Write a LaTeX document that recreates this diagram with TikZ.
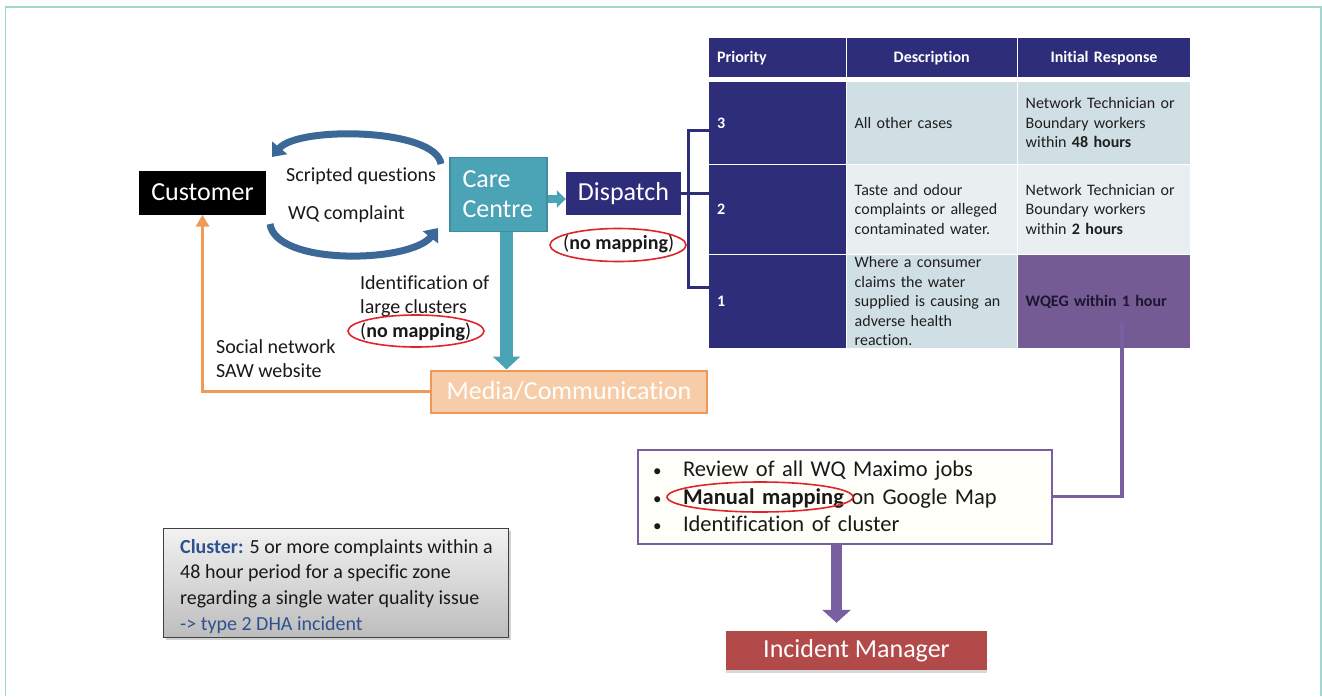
\documentclass[tikz,border=0pt]{standalone}
\usepackage{fontspec}
\setmainfont{Carlito}[Ligatures=CommonOff]
\usetikzlibrary{arrows.meta,shapes.geometric,shadows,calc}

\definecolor{navy}{RGB}{46,45,122}
\definecolor{careteal}{RGB}{75,163,182}
\definecolor{careedge}{RGB}{62,140,158}
\definecolor{arcblue}{RGB}{60,104,152}
\definecolor{mediafill}{RGB}{246,205,168}
\definecolor{mediaedge}{RGB}{238,152,88}
\definecolor{orangeln}{RGB}{240,154,89}
\definecolor{rowa}{RGB}{208,223,227}
\definecolor{rowb}{RGB}{233,238,241}
\definecolor{plum}{RGB}{116,91,148}
\definecolor{plumln}{RGB}{122,95,160}
\definecolor{incred}{RGB}{178,74,74}
\definecolor{markred}{RGB}{224,36,43}
\definecolor{clusterblue}{RGB}{47,82,143}
\definecolor{framec}{RGB}{160,216,208}
\definecolor{reviewfill}{RGB}{255,255,250}
\definecolor{darktext}{RGB}{28,22,48}

\begin{document}
\begin{tikzpicture}[x=1pt,y=-1pt,
  box/.style={rectangle, inner sep=0pt, text=white, font=\fontsize{26}{30}\selectfont},
  lbl/.style={anchor=base west, inner sep=0pt, text=black!90, font=\fontsize{20}{24}\selectfont},
  cell/.style={rectangle, anchor=north west, inner xsep=8pt, inner ysep=0pt, align=left,
               text=black!88, font=\fontsize{16}{19.5}\selectfont},
  hcell/.style={cell, fill=navy, text=white, font=\fontsize{16}{19.5}\selectfont\bfseries},
  redoval/.style={ellipse, draw=markred, line width=1.6pt, inner sep=0pt},
]
\useasboundingbox (0,0) rectangle (1322,696);
\fill[white] (0,0) rectangle (1322,696);
\draw[framec, line width=1.5pt] (5.5,696) -- (5.5,7) -- (1321,7) -- (1321,696);

% ---------- main flow boxes ----------
\node[box, fill=black, minimum width=127pt, minimum height=44pt] (customer) at (202.5,192.5) {Customer};
\node[box, fill=careteal, draw=careedge, line width=1.5pt, minimum height=74pt,
      text width=72pt, align=left, inner xsep=12.5pt] (care) at (498.5,194.5) {Care\\Centre};
\node[box, fill=navy, minimum width=115pt, minimum height=43pt] (dispatch) at (623.5,193.5) {Dispatch};
\node[box, fill=mediafill, draw=mediaedge, line width=2pt, minimum width=276pt, minimum height=42pt]
      (media) at (569,391.5) {Media/Communication};

% ---------- priority table ----------
\node[hcell, text width=120.5pt, minimum height=39pt] (hprio) at (709,38) {Priority};
\node[hcell, text width=154pt, align=center, minimum height=39pt] (hdesc) at (846.5,38) {Description};
\node[hcell, text width=156.5pt, align=center, minimum height=39pt] (hresp) at (1017.5,38) {Initial Response};

\node[hcell, text width=120.5pt, minimum height=81.5pt] (p3) at (709,82) {3};
\node[cell, fill=rowa, text width=154pt, minimum height=81.5pt] (d3) at (846.5,82) {All other cases};
\node[cell, fill=rowa, text width=156.5pt, minimum height=81.5pt] (r3) at (1017.5,82)
      {Network Technician or\\Boundary workers\\within \textbf{48 hours}};

\node[hcell, text width=120.5pt, minimum height=89pt] (p2) at (709,164.5) {2};
\node[cell, fill=rowb, text width=154pt, minimum height=89pt] (d2) at (846.5,164.5)
      {Taste and odour\\complaints or alleged\\contaminated water.};
\node[cell, fill=rowb, text width=156.5pt, minimum height=89pt] (r2) at (1017.5,164.5)
      {Network Technician or\\Boundary workers\\within \textbf{2 hours}};

\node[hcell, text width=120.5pt, minimum height=93.5pt] (p1) at (709,254.5) {1};
\node[cell, fill=rowa, text width=154pt, minimum height=93.5pt] (d1) at (846.5,254.5)
      {Where a consumer\\claims the water\\supplied is causing an\\adverse health\\reaction.};
\node[cell, fill=plum, text=darktext, text width=156.5pt, minimum height=93.5pt,
      font=\fontsize{16}{19.5}\selectfont\bfseries] (r1) at (1017.5,254.5) {WQEG within 1 hour};

% ---------- lower boxes ----------
\node[rectangle, draw=plumln, line width=2pt, fill=reviewfill, minimum height=94pt,
      text width=384pt, inner xsep=15pt, align=left, text=black!90,
      font=\fontsize{22.5}{27.5}\selectfont] (review) at (845,496.5)
      {\makebox[30pt][l]{\fontsize{17}{20}\selectfont•}Review of all WQ Maximo jobs\\
       \makebox[30pt][l]{\fontsize{17}{20}\selectfont•}\textbf{Manual mapping} on Google Map\\
       \makebox[30pt][l]{\fontsize{17}{20}\selectfont•}Identification of cluster};

\node[box, fill=incred, minimum width=261pt, minimum height=39pt,
      drop shadow={opacity=0.3, shadow xshift=0pt, shadow yshift=-2.5pt}]
      (incident) at (856.5,650.5) {Incident Manager};

\node[rectangle, draw=black!75, line width=1pt, top color=black!5, bottom color=black!26,
      minimum width=345pt, minimum height=109pt,
      drop shadow={opacity=0.35, shadow xshift=2.5pt, shadow yshift=-2.5pt}]
      (cluster) at (335.5,582.5) {};
\node[anchor=north west, inner sep=0pt, align=left, text=black!90,
      font=\fontsize{20}{25.7}\selectfont] (clustertext) at (180,539)
      {\textcolor{clusterblue}{\textbf{Cluster:}} 5 or more complaints within a\\
       48 hour period for a specific zone\\
       regarding a single water quality issue\\
       \textcolor{clusterblue}{-> type 2 DHA incident}};

% ---------- free labels ----------
\node[lbl] (sq) at (286,181.5) {Scripted questions};
\node[lbl] (wqc) at (288,219) {WQ complaint};
\node[lbl] (id1) at (360,289) {Identification of};
\node[lbl] (id2) at (360,313) {large clusters};
\node[lbl] (id3) at (360,337) {(\textbf{no mapping})};
\node[lbl] (sn1) at (216,353) {Social network};
\node[lbl] (sn2) at (216,377) {SAW website};
\node[lbl] (nmd) at (563,249) {(\textbf{no mapping})};

% ---------- connectors ----------
% curved exchange arrows between customer and care centre
\coordinate (a1s) at (441,164);
\coordinate (a1e) at (272,157);
\draw[arcblue, line width=7pt, -{Triangle[width=19pt,length=12pt]}]
  (a1s) .. controls (436,128) and (298,126) .. (a1e);
\coordinate (a2s) at (270,224);
\coordinate (a2e) at (438,228);
\draw[arcblue, line width=7pt, -{Triangle[width=19pt,length=12pt]}]
  (a2s) .. controls (276,266) and (410,263) .. (a2e);

% care centre -> dispatch
\coordinate (cdy) at (0,199);
\draw[careteal, line width=8pt, -{Triangle[width=17pt,length=9pt]}]
  (care.east |- cdy) -- (dispatch.west |- cdy);

% care centre -> media
\draw[careteal, line width=13pt, -{Triangle[width=27pt,length=13pt]}]
  ($(care.south)+(8,0)$) -- ($(media.north)+(-62.5,0)$);

% media -> customer
\draw[orangeln, line width=3pt, -{Triangle[width=13pt,length=12pt]}]
  (media.west) -| (customer.south);

% dispatch bracket onto the priority rows
\coordinate (bt) at (688,130);
\coordinate (bb) at (688,287);
\draw[navy, line width=3pt] (p3.west |- bt) -- (bt) -- (bb) -- (p1.west |- bb);
\draw[navy, line width=3pt] (dispatch.east) -- (p2.west |- dispatch.east);

% priority 1 -> review
\coordinate (wq) at (1122,322);
\draw[plumln, line width=3.5pt] (wq) |- (review.east);

% review -> incident manager
\draw[plumln, line width=11pt, -{Triangle[width=28pt,length=13pt]}]
  ($(review.south)+(-8.5,0)$) -- ($(incident.north)+(-20,-8)$);

% ---------- red highlight ovals ----------
\node[redoval, minimum width=136pt, minimum height=33pt] (nm1) at (618,245) {};
\node[redoval, minimum width=136pt, minimum height=32pt] (nm2) at (416,331) {};
\node[redoval, minimum width=186pt, minimum height=30pt] (nm3) at (760,497) {};
\end{tikzpicture}
\end{document}
